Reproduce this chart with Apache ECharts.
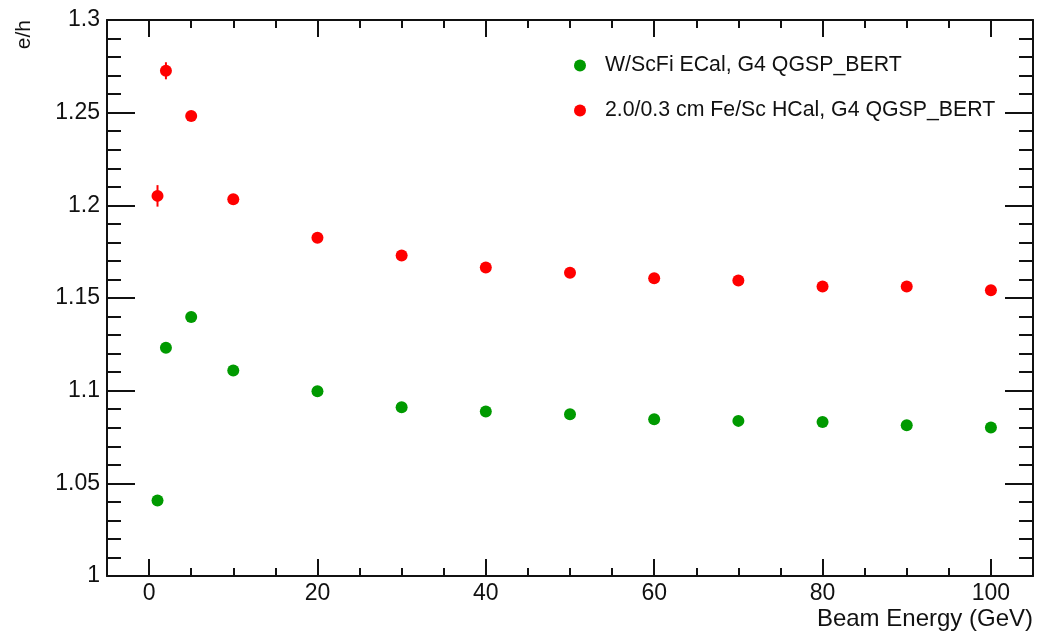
<!DOCTYPE html>
<html>
<head>
<meta charset="utf-8">
<script src="https://cdn.jsdelivr.net/npm/echarts@6/dist/echarts.min.js"></script>
<style>
html,body{margin:0;padding:0;background:#fff;}
#chart{width:1037px;height:634px;}
</style>
</head>
<body>
<div id="chart"></div>
<script>
// ---- data ----
const energies = [1, 2, 5, 10, 20, 30, 40, 50, 60, 70, 80, 90, 100];
const ecalEH = [1.0407, 1.1231, 1.1398, 1.1109, 1.0997, 1.0910, 1.0887, 1.0873, 1.0846, 1.0837, 1.0831, 1.0813, 1.0801];
const hcalEH = [1.2051, 1.2726, 1.2482, 1.2033, 1.1825, 1.1729, 1.1665, 1.1636, 1.1607, 1.1594, 1.1562, 1.1562, 1.1542];
const hcalErr = [0.0058, 0.0046, 0.001, 0.001, 0.001, 0.001, 0.001, 0.001, 0.001, 0.001, 0.001, 0.001, 0.001];
const ecalErr = [0.001, 0.001, 0.001, 0.001, 0.001, 0.001, 0.001, 0.001, 0.001, 0.001, 0.001, 0.001, 0.001];
const xMajorTicks = [0, 20, 40, 60, 80, 100];
const seriesNames = ['W/ScFi ECal, G4 QGSP_BERT', '2.0/0.3 cm Fe/Sc HCal, G4 QGSP_BERT'];
const xTitle = 'Beam Energy (GeV)';
const yTitle = 'e/h';

const FONT = '"Liberation Sans", Arial, Helvetica, sans-serif';
const AX = '#111';
const GREEN = '#009a00';
const RED = '#ff0000';

function pts(ys) { return energies.map((x, i) => [x, ys[i]]); }
function errPts(ys, es) { return energies.map((x, i) => [x, ys[i], es[i]]); }

function errItem(color) {
  return function (params, api) {
    const x = api.value(0), y = api.value(1), e = api.value(2);
    const p1 = api.coord([x, y - e]);
    const p2 = api.coord([x, y + e]);
    return {
      type: 'line',
      shape: { x1: p1[0], y1: p1[1], x2: p2[0], y2: p2[1] },
      style: { stroke: color, lineWidth: 2 }
    };
  };
}

const xBase = { type: 'value', min: -5, max: 105, splitLine: { show: false } };
const lineSt = { color: AX, width: 2 };

const chart = echarts.init(document.getElementById('chart'), null, { renderer: 'canvas' });
chart.setOption({
  animation: false,
  backgroundColor: '#fff',
  textStyle: { fontFamily: FONT },
  grid: { left: 107, right: 4, top: 20, bottom: 58, containLabel: false, outerBoundsMode: 'none' },
  legend: {
    orient: 'vertical',
    left: 569, top: 50,
    itemWidth: 12, itemHeight: 12, itemGap: 24,
    icon: 'circle',
    data: seriesNames,
    textStyle: { fontFamily: FONT, fontSize: 21.3, color: AX, padding: [0, 0, 0, 14] }
  },
  xAxis: [
    Object.assign({}, xBase, {
      position: 'bottom',
      axisLine: { show: true, onZero: false, lineStyle: lineSt },
      axisTick: { show: true, inside: true, length: 17, lineStyle: { color: AX, width: 2 }, customValues: xMajorTicks },
      axisLabel: { show: true, customValues: xMajorTicks, fontSize: 23, color: AX, margin: 6, fontFamily: FONT },
      name: xTitle, nameLocation: 'end', nameGap: 0,
      nameTextStyle: { fontSize: 24, color: AX, align: 'right', verticalAlign: 'top', padding: [31, 0, 0, 0], fontFamily: FONT }
    }),
    Object.assign({}, xBase, {
      position: 'bottom', interval: 5,
      axisLine: { show: false, onZero: false },
      axisTick: { show: true, inside: true, length: 8, lineStyle: { color: AX, width: 2 } },
      axisLabel: { show: false }
    }),
    Object.assign({}, xBase, {
      position: 'top',
      axisLine: { show: true, onZero: false, lineStyle: lineSt },
      axisTick: { show: true, inside: true, length: 17, lineStyle: { color: AX, width: 2 }, customValues: xMajorTicks },
      axisLabel: { show: false }
    }),
    Object.assign({}, xBase, {
      position: 'top', interval: 5,
      axisLine: { show: false, onZero: false },
      axisTick: { show: true, inside: true, length: 8, lineStyle: { color: AX, width: 2 } },
      axisLabel: { show: false }
    })
  ],
  yAxis: [
    {
      type: 'value', position: 'left', min: 1, max: 1.3, interval: 0.05,
      splitLine: { show: false },
      axisLine: { show: true, onZero: false, lineStyle: lineSt },
      axisTick: { show: true, inside: true, length: 28, lineStyle: { color: AX, width: 2 } },
      minorTick: { show: true, splitNumber: 5, length: 14, lineStyle: { color: AX, width: 2 } },
      axisLabel: { fontSize: 23, color: AX, margin: 7, fontFamily: FONT,
        formatter: v => (Math.round(v * 100) / 100).toString() },
      name: yTitle, nameLocation: 'end', nameGap: 0, nameRotate: 90,
      nameTextStyle: { fontSize: 21, color: AX, align: 'right', verticalAlign: 'bottom', padding: [0, 0, 72, 0], fontFamily: FONT }
    },
    {
      type: 'value', position: 'right', min: 1, max: 1.3, interval: 0.05,
      splitLine: { show: false },
      axisLine: { show: true, onZero: false, lineStyle: lineSt },
      axisTick: { show: true, inside: true, length: 28, lineStyle: { color: AX, width: 2 } },
      minorTick: { show: true, splitNumber: 5, length: 14, lineStyle: { color: AX, width: 2 } },
      axisLabel: { show: false }
    }
  ],
  series: [
    {
      name: seriesNames[0], type: 'scatter', xAxisIndex: 0, yAxisIndex: 0,
      symbol: 'circle', symbolSize: 12, itemStyle: { color: GREEN, opacity: 1 },
      data: pts(ecalEH), z: 3
    },
    {
      name: seriesNames[1], type: 'scatter', xAxisIndex: 0, yAxisIndex: 0,
      symbol: 'circle', symbolSize: 12, itemStyle: { color: RED, opacity: 1 },
      data: pts(hcalEH), z: 3
    },
    {
      type: 'custom', xAxisIndex: 0, yAxisIndex: 0, renderItem: errItem(GREEN),
      data: errPts(ecalEH, ecalErr), z: 2, silent: true
    },
    {
      type: 'custom', xAxisIndex: 0, yAxisIndex: 0, renderItem: errItem(RED),
      data: errPts(hcalEH, hcalErr), z: 2, silent: true
    }
  ]
});
</script>
</body>
</html>
